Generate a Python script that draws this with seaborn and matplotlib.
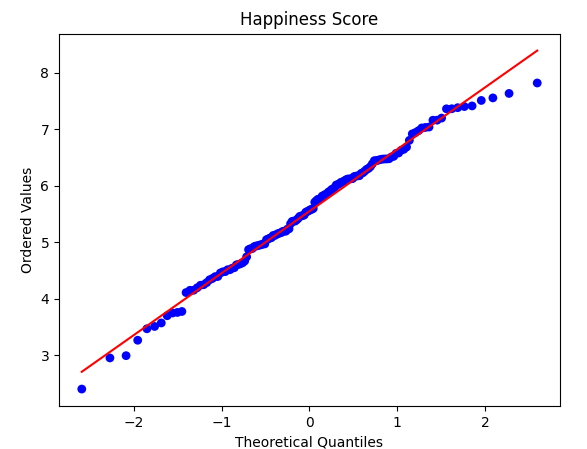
import statistics

import numpy as np
import pandas as pd
import seaborn as sns
import matplotlib
matplotlib.use("Agg")
import matplotlib.pyplot as plt

# Happiness scores (one per country), high to low
top_scores = [7.821, 7.636, 7.557, 7.512, 7.415, 7.404, 7.384, 7.365, 7.364, 7.200,
              7.163, 7.162, 7.041, 7.034, 7.025, 6.977, 6.943, 6.920, 6.805, 6.687,
              6.647, 6.630, 6.582, 6.576, 6.523, 6.512, 6.480, 6.477, 6.476, 6.474,
              6.467, 6.455, 6.447, 6.446, 6.391, 6.341, 6.309, 6.293, 6.262, 6.234]
mid_scores = [6.221, 6.180, 6.178, 6.172, 6.165, 6.128, 6.125, 6.123, 6.120, 6.106,
              6.086, 6.071, 6.063, 6.039, 6.022, 6.016, 5.967, 5.948, 5.935, 5.904,
              5.891, 5.857, 5.850, 5.828, 5.821, 5.781, 5.768, 5.761, 5.737, 5.711,
              5.600, 5.585, 5.578, 5.559, 5.547, 5.533, 5.485, 5.474, 5.467, 5.459,
              5.425, 5.399, 5.377, 5.377, 5.371, 5.330, 5.240, 5.235, 5.199, 5.199,
              5.194, 5.173, 5.164, 5.155, 5.140, 5.122, 5.122, 5.084, 5.075, 5.060]
low_scores = [5.048, 4.973, 4.973, 4.953, 4.958, 4.941, 4.936, 4.925, 4.891, 4.888,
              4.872, 4.744, 4.670, 4.640, 4.623, 4.609, 4.603, 4.552, 4.543, 4.516,
              4.516, 4.483, 4.479, 4.459, 4.396, 4.394, 4.362, 4.339, 4.288, 4.251,
              4.241, 4.197, 4.153, 4.152, 4.112, 3.777, 3.760, 3.750, 3.702, 3.574,
              3.512, 3.471, 3.268, 2.995, 2.955, 2.404]

scores = np.sort(np.array(top_scores + mid_scores + low_scores))
n = len(scores)

# Filliben order statistic medians -> normal quantiles (as in a probability plot)
m = (np.arange(1, n + 1) - 0.3175) / (n + 0.365)
m[-1] = 0.5 ** (1.0 / n)
m[0] = 1 - m[-1]
norm = statistics.NormalDist()
theo = np.array([norm.inv_cdf(p) for p in m])

df = pd.DataFrame({"theoretical": theo, "ordered": scores})

fig, ax = plt.subplots(figsize=(5.87, 4.49), dpi=100)
fig.subplots_adjust(left=0.1005, right=0.954, top=0.925, bottom=0.0958)

sns.scatterplot(data=df, x="theoretical", y="ordered", ax=ax,
                color="blue", s=40, edgecolor="none", zorder=2)
sns.regplot(data=df, x="theoretical", y="ordered", ax=ax, scatter=False,
            ci=None, truncate=True, line_kws={"color": "red", "lw": 1.5, "zorder": 3})

ax.set_title("Happiness Score")
ax.set_xlabel("Theoretical Quantiles")
ax.set_ylabel("Ordered Values")

fig.savefig("out.png", dpi=100)
